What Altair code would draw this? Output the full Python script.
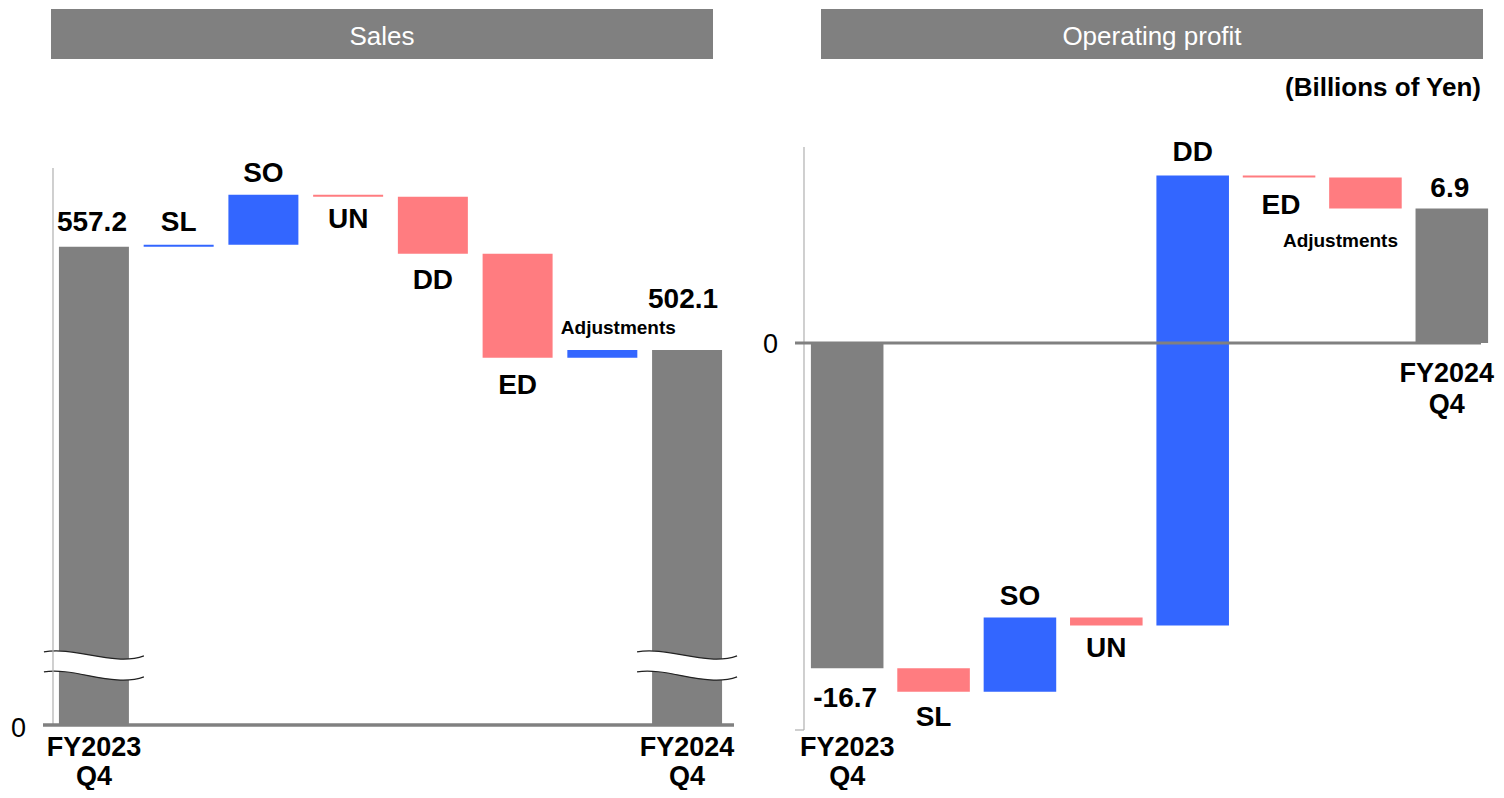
import altair as alt
import pandas as pd

# ---------------- data ----------------
categories = ["FY2023 Q4", "SL", "SO", "UN", "DD", "ED", "Adjustments", "FY2024 Q4"]
x_labels = ["FY2023\nQ4", "SL", "SO", "UN", "DD", "ED", "Adjustments", "FY2024\nQ4"]
is_total = [True, False, False, False, False, False, False, True]
sales_values = [557.2, 1.0, 26.7, -1.0, -30.4, -55.5, 4.1, 502.1]
profit_values = [-16.7, -1.2, 3.8, -0.4, 23.1, -0.1, -1.6, 6.9]
panel_titles = ["Sales", "Operating profit"]
unit_note = "(Billions of Yen)"

# broken sales axis: value shown as "0" after the break, and the break position
SALES_AXIS_ZERO = 302.1
SALES_BREAK_AT = 333.6
sales_domain = [299.4, 610.4]
profit_domain = [-19.87, 10.06]

# ---------------- styles ----------------
FONT = "Liberation Sans, Arial, sans-serif"
GREY = "#808080"
BLUE = "#3366FF"
PINK = "#FF7C80"
AXIS_GREY = "#B0B0B0"
PLOT_H = 583
LEFT_W = 675
RIGHT_W = 691


def build_frame(values, base):
    rows = []
    running = None
    for cat, lab, v, tot in zip(categories, x_labels, values, is_total):
        if tot:
            start, end = base, v
            running = v
            kind = "total"
            vlab = f"{v:.1f}"
        else:
            start, end = running, running + v
            running = end
            kind = "increase" if v >= 0 else "decrease"
            vlab = ""
        rows.append(dict(category=cat, label=lab, value_label=vlab, start=start, end=end,
                         top=max(start, end), bottom=min(start, end), kind=kind))
    return pd.DataFrame(rows)


sales_df = build_frame(sales_values, SALES_AXIS_ZERO)
profit_df = build_frame(profit_values, 0.0)

one = pd.DataFrame({"k": [0]})


def xenc(pi, po):
    return alt.X("category:N", sort=categories,
                 scale=alt.Scale(domain=categories, paddingInner=pi, paddingOuter=po),
                 axis=None)


def yscale(domain):
    return alt.Scale(domain=domain, nice=False, zero=False)


def label_layers(df, specs, ysc, xe):
    layers = []
    for cat, field, anchor, dx, dy, size, lh in specs:
        base = alt.Chart(df).transform_filter(alt.datum.category == cat)
        if anchor == "axis":
            y = alt.value(PLOT_H)
        else:
            y = alt.Y(f"{anchor}:Q", scale=ysc, axis=None)
        layers.append(
            base.mark_text(font=FONT, fontWeight="bold", fontSize=size, dx=dx, dy=dy,
                           baseline="alphabetic", align="center", lineBreak="\n",
                           lineHeight=lh, color="black")
            .encode(x=xe, y=y, text=f"{field}:N")
        )
    return layers


def header(title, x0, x1, xc):
    rect = alt.Chart(one).mark_rect(color=GREY).encode(
        x=alt.value(x0), x2=alt.value(x1), y=alt.value(-138), y2=alt.value(-88))
    txt = alt.Chart(pd.DataFrame({"t": [title]})).mark_text(
        font=FONT, fontSize=26, color="white", align="center", baseline="alphabetic"
    ).encode(x=alt.value(xc), y=alt.value(-102), text="t:N")
    return [rect, txt]


color_enc = alt.Color("kind:N", scale=alt.Scale(domain=["total", "increase", "decrease"],
                                                range=[GREY, BLUE, PINK]), legend=None)

# ---------------- Sales panel ----------------
sx = xenc(0.174, 0.07)
sy = yscale(sales_domain)

s_bars = alt.Chart(sales_df).mark_bar().encode(
    x=sx, y=alt.Y("start:Q", scale=sy, axis=None), y2="end:Q", color=color_enc)

band_path = "M -1 -0.28 C -0.4 -0.4 0.4 0.02 1 -0.2 L 1 0.22 C 0.4 0.44 -0.4 0.02 -1 0.12 Z"
curve_path = "M -1 -0.28 C -0.4 -0.4 0.4 0.02 1 -0.2 M -1 0.12 C -0.4 0.02 0.4 0.44 1 0.22"
brk = alt.Chart(sales_df).transform_filter(alt.datum.kind == "total").transform_calculate(
    b=str(SALES_BREAK_AT))
s_break_fill = brk.mark_point(shape=band_path, size=10000, filled=True, fill="white",
                              opacity=1, strokeWidth=0).encode(
    x=sx, y=alt.Y("b:Q", scale=sy, axis=None))
s_break_line = brk.mark_point(shape=curve_path, size=10000, filled=False, stroke="#222222",
                              strokeWidth=1.2, opacity=1).encode(
    x=sx, y=alt.Y("b:Q", scale=sy, axis=None))

szero_df = pd.DataFrame({"v": [SALES_AXIS_ZERO], "t": ["0"]})
s_axis = alt.Chart(one).mark_rule(color=AXIS_GREY, strokeWidth=1.2).encode(
    x=alt.value(0), y=alt.value(21), y2=alt.value(578))
s_base = alt.Chart(szero_df).mark_rule(color=GREY, strokeWidth=3.5).encode(
    x=alt.value(-10), x2=alt.value(681), y=alt.Y("v:Q", scale=sy, axis=None))
s_zero = alt.Chart(szero_df).mark_text(font=FONT, fontSize=27, align="right", baseline="alphabetic",
                                       dy=12, color="black").encode(
    x=alt.value(-27), y=alt.Y("v:Q", scale=sy, axis=None), text="t:N")

sales_specs = [
    ("FY2023 Q4", "label", "axis", 0, 26, 27, 29),
    ("SL", "label", "top", 0, -14, 28, 30),
    ("SO", "label", "top", 0, -13, 28, 30),
    ("UN", "label", "bottom", 0, 31, 28, 30),
    ("DD", "label", "bottom", 0, 35, 28, 30),
    ("ED", "label", "bottom", 0, 36, 28, 30),
    ("Adjustments", "label", "top", 16, -16, 19, 30),
    ("FY2024 Q4", "label", "axis", 0, 26, 27, 29),
    ("FY2023 Q4", "value_label", "top", -2, -16, 28, 30),
    ("FY2024 Q4", "value_label", "top", -4, -42, 28, 30),
]

left = alt.layer(
    *header(panel_titles[0], -2, 660, 329),
    s_bars, s_break_fill, s_break_line, s_axis, s_base, s_zero,
    *label_layers(sales_df, sales_specs, sy, sx),
).properties(width=LEFT_W, height=PLOT_H)

# ---------------- Operating profit panel ----------------
px_ = xenc(0.16, 0.08)
py = yscale(profit_domain)

pzero_df = pd.DataFrame({"v": [0.0], "t": ["0"]})
p_bars = alt.Chart(profit_df).mark_bar().encode(
    x=px_, y=alt.Y("start:Q", scale=py, axis=None), y2="end:Q", color=color_enc)
p_axis = alt.Chart(one).mark_rule(color=AXIS_GREY, strokeWidth=1.2).encode(
    x=alt.value(0), y=alt.value(0), y2=alt.value(PLOT_H))
p_tick = alt.Chart(one).mark_rule(color=AXIS_GREY, strokeWidth=1.2).encode(
    x=alt.value(-9), x2=alt.value(0), y=alt.value(PLOT_H))
p_base = alt.Chart(pzero_df).mark_rule(color=GREY, strokeWidth=3).encode(
    x=alt.value(-9), x2=alt.value(677), y=alt.Y("v:Q", scale=py, axis=None))
p_zero = alt.Chart(pzero_df).mark_text(font=FONT, fontSize=27, align="right", baseline="alphabetic",
                                       dy=10, color="black").encode(
    x=alt.value(-26), y=alt.Y("v:Q", scale=py, axis=None), text="t:N")
p_unit = alt.Chart(pd.DataFrame({"t": [unit_note]})).mark_text(
    font=FONT, fontSize=26, fontWeight="bold", align="right", baseline="alphabetic",
    color="black").encode(x=alt.value(677), y=alt.value(-51), text="t:N")

profit_specs = [
    ("FY2023 Q4", "label", "axis", 0, 26, 27, 29),
    ("SL", "label", "bottom", 0, 34, 28, 30),
    ("SO", "label", "top", 0, -13, 28, 30),
    ("UN", "label", "bottom", 0, 32, 28, 30),
    ("DD", "label", "top", 0, -14, 28, 30),
    ("ED", "label", "bottom", 2, 37, 28, 30),
    ("Adjustments", "label", "bottom", -25, 38, 19, 30),
    ("FY2024 Q4", "label", "bottom", -5, 39, 27, 31),
    ("FY2023 Q4", "value_label", "bottom", -2, 39, 28, 30),
    ("FY2024 Q4", "value_label", "top", -2, -12, 28, 30),
]

right = alt.layer(
    *header(panel_titles[1], 17, 679, 348),
    p_bars, p_axis, p_tick, p_base, p_zero, p_unit,
    *label_layers(profit_df, profit_specs, py, px_),
).properties(width=RIGHT_W, height=PLOT_H)

chart = alt.HConcatChart(hconcat=[left, right], spacing=76, bounds="flush").resolve_scale(
    x="independent", y="independent"
).configure_view(stroke=None).properties(
    padding={"left": 2, "top": 1, "right": 0, "bottom": 0}
)

chart.save("out.html", embed_options={"renderer": "svg", "actions": False})
